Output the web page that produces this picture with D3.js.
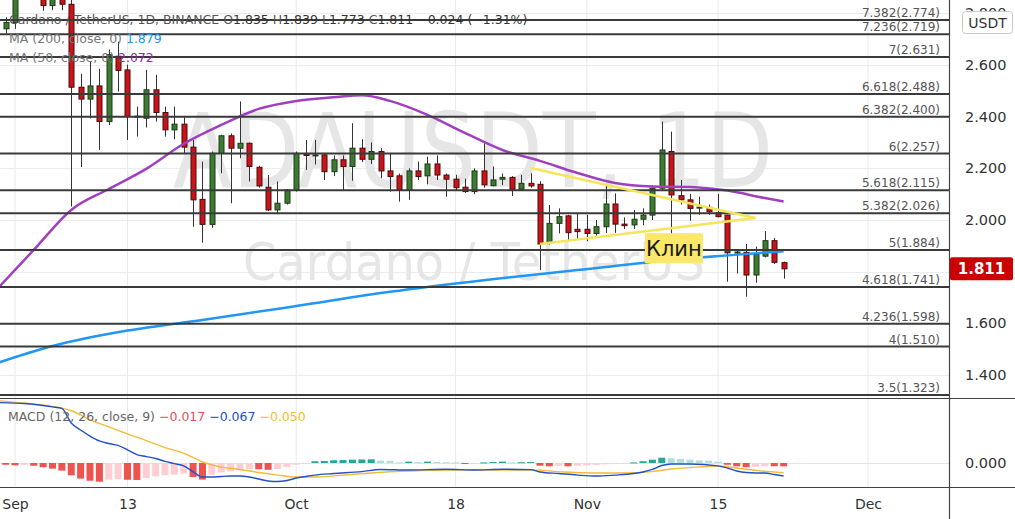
<!DOCTYPE html>
<html><head><meta charset="utf-8">
<script src="https://cdn.jsdelivr.net/npm/d3@7"></script>
<style>html,body{margin:0;padding:0;background:#fff;overflow:hidden}</style>
</head><body><svg id="c" width="1015" height="519"></svg>
<script>
// ---------- DATA ----------
const firstDay = "2021-08-31";
const lastDay = "2021-11-22";
const openP = [2.740,
 2.765,2.920,2.890,2.930,2.830,2.875,2.835,2.514,2.468,2.519,2.381,2.634,2.581,2.398,2.394,2.504,2.416,2.349,2.371,2.282,2.080,1.983,2.258,2.326,2.278,2.297,2.204,2.127,2.039,2.065,
 2.116,2.256,2.250,2.252,2.187,2.233,2.207,2.278,2.235,2.265,2.190,2.171,2.116,2.190,2.171,2.217,2.174,2.158,2.127,2.110,2.190,2.133,2.158,2.165,2.119,2.142,2.138,1.912,1.987,2.016,1.964,
 1.964,1.948,1.974,2.062,1.984,1.981,2.003,2.019,2.123,2.265,2.094,2.078,2.046,2.049,2.028,2.019,1.873,1.875,1.787,1.860,1.920,1.835];
const highP = [2.785,
 2.960,3.100,2.970,2.950,2.900,2.920,2.870,2.566,2.614,2.585,2.660,2.690,2.601,2.439,2.581,2.562,2.439,2.439,2.400,2.310,2.226,2.265,2.330,2.335,2.459,2.300,2.210,2.174,2.149,2.120,
 2.265,2.310,2.310,2.260,2.250,2.250,2.375,2.313,2.300,2.278,2.258,2.180,2.200,2.226,2.245,2.250,2.180,2.175,2.160,2.200,2.297,2.207,2.180,2.170,2.175,2.181,2.150,2.058,2.045,2.020,2.026,
 2.020,2.000,2.140,2.103,2.010,2.039,2.045,2.135,2.381,2.342,2.155,2.101,2.090,2.060,2.101,2.020,1.885,1.907,1.897,1.957,1.930,1.839];
const lowP = [2.722,
 2.740,2.870,2.865,2.810,2.812,2.812,2.052,2.205,2.394,2.271,2.368,2.497,2.310,2.323,2.358,2.381,2.323,2.313,2.258,1.974,1.912,1.970,2.181,2.065,2.239,2.149,2.125,2.035,2.022,2.060,
 2.110,2.194,2.215,2.155,2.170,2.116,2.152,2.225,2.217,2.162,2.110,2.071,2.078,2.155,2.138,2.155,2.090,2.116,2.105,2.100,2.125,2.130,2.135,2.093,2.115,2.125,1.806,1.905,1.948,1.922,1.925,
 1.918,1.940,1.950,1.950,1.965,1.965,1.980,2.000,2.116,1.935,2.060,1.997,2.020,2.020,2.010,1.761,1.793,1.703,1.757,1.855,1.830,1.773];
const closeP = [2.765,
 2.920,2.890,2.930,2.830,2.875,2.835,2.514,2.468,2.519,2.381,2.640,2.579,2.400,2.402,2.504,2.416,2.349,2.371,2.282,2.078,1.983,2.258,2.326,2.278,2.297,2.207,2.132,2.039,2.065,2.116,
 2.258,2.250,2.252,2.187,2.233,2.207,2.278,2.235,2.265,2.190,2.168,2.116,2.190,2.168,2.217,2.174,2.158,2.125,2.110,2.190,2.136,2.155,2.165,2.119,2.142,2.132,1.907,1.987,2.013,1.951,1.955,
 1.948,1.974,2.062,1.984,1.978,2.003,2.019,2.123,2.271,2.097,2.078,2.045,2.050,2.032,2.013,1.873,1.876,1.787,1.868,1.920,1.836,1.811];

const histVals = [-0.009,
 -0.012,-0.009,-0.014,-0.022,-0.029,-0.039,-0.063,-0.080,-0.091,-0.096,-0.085,-0.083,-0.086,-0.087,-0.077,-0.068,-0.063,-0.060,-0.055,-0.072,-0.085,-0.060,-0.048,-0.043,-0.038,-0.031,-0.032,-0.035,-0.031,-0.021,
 -0.009,-0.002,0.009,0.010,0.014,0.015,0.017,0.018,0.019,0.012,0.011,0.003,0.007,0.005,0.007,0.005,0.004,0.003,-0.003,-0.002,0.003,0.005,0.007,0.003,0.004,0.005,-0.014,-0.017,-0.014,-0.017,-0.014,
 -0.013,-0.010,-0.007,-0.003,-0.002,0.003,0.009,0.017,0.027,0.024,0.021,0.017,0.013,0.012,0.007,-0.009,-0.017,-0.022,-0.020,-0.016,-0.0165,-0.017];

const ma50Dates = ["2021-08-30","2021-09-03","2021-09-07","2021-09-11","2021-09-15","2021-09-19","2021-09-23","2021-09-27","2021-10-01","2021-10-05","2021-10-08","2021-10-11","2021-10-15","2021-10-19","2021-10-23","2021-10-27","2021-10-31","2021-11-04","2021-11-08","2021-11-12","2021-11-16","2021-11-20","2021-11-22"];
const ma50Vals  = [1.729,1.884,2.039,2.120,2.198,2.295,2.368,2.430,2.461,2.475,2.483,2.461,2.407,2.337,2.271,2.229,2.182,2.143,2.130,2.128,2.114,2.085,2.072];
const ma200Dates = ["2021-08-30","2021-09-05","2021-09-13","2021-09-21","2021-10-01","2021-10-11","2021-10-21","2021-10-31","2021-11-10","2021-11-22"];
const ma200Vals  = [1.445,1.512,1.572,1.613,1.667,1.722,1.767,1.806,1.845,1.879];

const macdDates = ["2021-08-30","2021-09-02","2021-09-05","2021-09-06","2021-09-07","2021-09-08","2021-09-09","2021-09-10","2021-09-11","2021-09-12","2021-09-13","2021-09-14","2021-09-15","2021-09-16","2021-09-17","2021-09-18","2021-09-19","2021-09-20","2021-09-21","2021-09-22","2021-09-23","2021-09-24","2021-09-25","2021-09-26","2021-09-27","2021-09-28","2021-09-29","2021-09-30","2021-10-01","2021-10-02","2021-10-03","2021-10-05","2021-10-08","2021-10-10","2021-10-13","2021-10-17","2021-10-20","2021-10-23","2021-10-26","2021-10-27","2021-10-29","2021-10-31","2021-11-02","2021-11-04","2021-11-06","2021-11-07","2021-11-08","2021-11-09","2021-11-10","2021-11-12","2021-11-15","2021-11-16","2021-11-17","2021-11-18","2021-11-19","2021-11-20","2021-11-21","2021-11-22"];
const macdVals  = [0.310,0.305,0.288,0.280,0.205,0.169,0.138,0.113,0.100,0.090,0.067,0.043,0.033,0.023,0.008,-0.003,-0.015,-0.045,-0.072,-0.072,-0.069,-0.067,-0.067,-0.072,-0.082,-0.092,-0.095,-0.090,-0.077,-0.069,-0.062,-0.054,-0.044,-0.033,-0.036,-0.032,-0.036,-0.032,-0.034,-0.046,-0.054,-0.062,-0.067,-0.062,-0.054,-0.046,-0.033,-0.013,-0.005,-0.005,-0.015,-0.026,-0.041,-0.049,-0.051,-0.051,-0.059,-0.067];
const signalDates = ["2021-08-30","2021-08-31","2021-09-03","2021-09-05","2021-09-06","2021-09-07","2021-09-08","2021-09-09","2021-09-10","2021-09-11","2021-09-12","2021-09-13","2021-09-15","2021-09-17","2021-09-19","2021-09-21","2021-09-23","2021-09-25","2021-09-27","2021-09-29","2021-10-01","2021-10-03","2021-10-06","2021-10-09","2021-10-13","2021-10-18","2021-10-26","2021-10-29","2021-11-02","2021-11-05","2021-11-08","2021-11-10","2021-11-12","2021-11-15","2021-11-17","2021-11-19","2021-11-22"];
const signalVals  = [0.320,0.316,0.302,0.290,0.281,0.268,0.246,0.221,0.203,0.185,0.167,0.149,0.115,0.079,0.051,0.005,-0.021,-0.033,-0.049,-0.062,-0.072,-0.072,-0.062,-0.051,-0.041,-0.036,-0.036,-0.044,-0.051,-0.051,-0.044,-0.031,-0.023,-0.015,-0.026,-0.038,-0.050];

const fibRatios = ["7.382","7.236","7","6.618","6.382","6","5.618","5.382","5","4.618","4.236","4","3.5"];
const fibPrices = [2.774,2.719,2.631,2.488,2.400,2.257,2.115,2.026,1.884,1.741,1.598,1.510,1.323];

const gridTicks = [1.4,1.6,1.8,2.0,2.2,2.4,2.6,2.8];
const priceTicks = [1.4,1.6,2.0,2.2,2.4,2.6,2.8];   // 1.800 is hidden behind the last-price tag
const macdTicks = [0];
const timeTickDates = ["2021-09-01","2021-09-13","2021-10-01","2021-10-18","2021-11-01","2021-11-15","2021-12-01"];
const timeTickLabels = ["Sep","13","Oct","18","Nov","15","Dec"];

const wedgeUpperDates = ["2021-10-26","2021-11-19"], wedgeUpperPrices = [2.201,2.008];
const wedgeLowerDates = ["2021-10-27","2021-11-19"], wedgeLowerPrices = [1.907,2.008];
const noteText = "Клин", noteDate = "2021-11-10T07:00", notePrice = 1.891;

const symbolTitle = "Cardano / TetherUS, 1D, BINANCE";
const ohlcLabels = ["O","H","L","C"];
const ohlcVals = ["1.835","1.839","1.773","1.811"];
const changeText = "\u22120.024 (\u22121.31%)";
const ma200Label = "MA (200, close, 0)", ma200Last = "1.879";
const ma50Label = "MA (50, close, 0)", ma50Last = "2.072";
const macdLabel = "MACD (12, 26, close, 9)";
const macdLegendVals = ["\u22120.017","\u22120.067","\u22120.050"];
const lastPriceText = "1.811";
const currency = "USDT";
const wmBig = "ADAUSDT, 1D", wmSmall = "Cardano / TetherUS";

// ---------- LAYOUT ----------
const W = 1015, H = 519, PR = 949, MT = 0, MB = 398, QT = 399, QB = 487;
const FONT = "'DejaVu Sans', Verdana, sans-serif";
const P = d3.utcParse("%Y-%m-%d");
const PT = d3.utcParse("%Y-%m-%dT%H:%M");
const dates = d3.utcDay.range(P(firstDay), d3.utcDay.offset(P(lastDay), 1));

const x = d3.scaleUtc().domain([P("2021-09-01"), P("2021-12-01")]).range([15, 868]);
const y = d3.scaleLinear().domain([1.4, 2.0]).range([375, 220]);
const ym = d3.scaleLinear().domain([0, -0.1]).range([463, 482.5]);

const svg = d3.select("#c").style("font-family", FONT);
svg.append("rect").attr("width", W).attr("height", H).attr("fill", "#fff");
const defs = svg.append("defs");
defs.append("clipPath").attr("id", "cm").append("rect").attr("x", 0).attr("y", MT).attr("width", PR).attr("height", MB - MT);
defs.append("clipPath").attr("id", "cq").append("rect").attr("x", 0).attr("y", QT).attr("width", PR).attr("height", QB - QT);

// grid
const grid = svg.append("g");
grid.selectAll("line.v").data(timeTickDates).join("line")
  .attr("x1", d => x(P(d))).attr("x2", d => x(P(d))).attr("y1", 0).attr("y2", QB)
  .attr("stroke", "#e9e9e9").attr("stroke-width", 1);
grid.selectAll("line.h").data(gridTicks).join("line")
  .attr("x1", 0).attr("x2", PR).attr("y1", d => Math.round(y(d)) + 0.5).attr("y2", d => Math.round(y(d)) + 0.5)
  .attr("stroke", "#ececec");
grid.selectAll("line.q").data(macdTicks).join("line")
  .attr("x1", 0).attr("x2", PR).attr("y1", d => Math.round(ym(d)) + 0.5).attr("y2", d => Math.round(ym(d)) + 0.5)
  .attr("stroke", "#e4e4e4");

// watermark
const main = svg.append("g").attr("clip-path", "url(#cm)");
main.append("text").text(wmBig).attr("x", 173).attr("y", 187).attr("font-size", 104)
  .attr("textLength", 600).attr("lengthAdjust", "spacingAndGlyphs").attr("fill", "#e6e6e6");
main.append("text").text(wmSmall).attr("x", 243).attr("y", 280).attr("font-size", 52)
  .attr("textLength", 462).attr("lengthAdjust", "spacingAndGlyphs").attr("fill", "#e6e6e6");

// legend (under marks)
const lg = svg.append("g").attr("font-size", 12.5);
const l1 = lg.append("text").attr("x", 9).attr("y", 24).attr("fill", "#555");
l1.append("tspan").text(symbolTitle + "  ");
ohlcLabels.forEach((k, i) => {
  l1.append("tspan").text(k).attr("fill", "#555");
  l1.append("tspan").text(ohlcVals[i] + "  ").attr("fill", "#333");
});
l1.append("tspan").text(changeText).attr("fill", "#333");
const l2 = lg.append("text").attr("x", 9).attr("y", 43).attr("fill", "#777");
l2.append("tspan").text(ma200Label + "  ");
l2.append("tspan").text(ma200Last).attr("fill", "#2196f3");
const l3 = lg.append("text").attr("x", 9).attr("y", 62).attr("fill", "#777");
l3.append("tspan").text(ma50Label + "  ");
l3.append("tspan").text(ma50Last).attr("fill", "#9c27b0");

// candles
const candles = dates.map((d, i) => ({d, o: openP[i], h: highP[i], l: lowP[i], c: closeP[i]}));
const cg = main.append("g");
cg.selectAll("line").data(candles).join("line")
  .attr("x1", d => Math.round(x(d.d)) + 0.5).attr("x2", d => Math.round(x(d.d)) + 0.5)
  .attr("y1", d => y(d.h)).attr("y2", d => y(d.l)).attr("stroke", "#333").attr("stroke-width", 1);
cg.selectAll("rect").data(candles).join("rect")
  .attr("x", d => Math.round(x(d.d)) - 2)
  .attr("width", 5)
  .attr("y", d => y(Math.max(d.o, d.c)))
  .attr("height", d => Math.max(1, Math.abs(y(d.o) - y(d.c))))
  .attr("fill", d => d.c >= d.o ? "#3d7a32" : "#c8141a")
  .attr("stroke", d => d.c >= d.o ? "#1d3a18" : "#4d0b0b").attr("stroke-width", 1);

// moving averages
const line = d3.line().curve(d3.curveMonotoneX).x(d => x(d[0])).y(d => y(d[1]));
main.append("path").datum(ma200Dates.map((d, i) => [P(d), ma200Vals[i]])).attr("d", line)
  .attr("fill", "none").attr("stroke", "#2196f3").attr("stroke-width", 2.5);
main.append("path").datum(ma50Dates.map((d, i) => [P(d), ma50Vals[i]])).attr("d", line)
  .attr("fill", "none").attr("stroke", "#a040c0").attr("stroke-width", 2.5);

// fib levels
const fg = main.append("g");
fg.selectAll("line").data(fibPrices).join("line")
  .attr("x1", 0).attr("x2", PR).attr("y1", d => y(d)).attr("y2", d => y(d))
  .attr("stroke", "#3a3a3a").attr("stroke-width", 2);
fg.selectAll("text").data(fibPrices).join("text")
  .attr("x", 940).attr("y", d => y(d) - 3).attr("text-anchor", "end")
  .attr("font-size", 12).attr("fill", "#555")
  .text((d, i) => `${fibRatios[i]}(${d.toFixed(3)})`);

// wedge
const wl = d3.line().x(d => x(d[0])).y(d => y(d[1]));
[[wedgeUpperDates, wedgeUpperPrices], [wedgeLowerDates, wedgeLowerPrices]].forEach(([ds, ps]) => {
  main.append("path").datum(ds.map((d, i) => [P(d), ps[i]])).attr("d", wl)
    .attr("fill", "none").attr("stroke", "#f4e65c").attr("stroke-width", 2.5);
});
// note
const nx = x(PT(noteDate)), ny = y(notePrice);
main.append("rect").attr("x", nx - 29).attr("y", ny - 15).attr("width", 58).attr("height", 30)
  .attr("fill", "#fbe86a");
main.append("text").text(noteText).attr("x", nx).attr("y", ny + 7.5).attr("text-anchor", "middle")
  .attr("font-size", 21).attr("fill", "#1a1a1a");

// MACD pane
const mq = svg.append("g").attr("clip-path", "url(#cq)");
const bw = 7;
mq.selectAll("rect").data(dates.map((d, i) => ({d, v: histVals[i], p: i > 0 ? histVals[i - 1] : histVals[i] + 1}))).join("rect")
  .attr("x", d => x(d.d) - bw / 2).attr("width", bw)
  .attr("y", d => Math.min(ym(d.v), ym(0))).attr("height", d => Math.max(1, Math.abs(ym(d.v) - ym(0))))
  .attr("fill", d => d.v >= 0 ? (d.v >= d.p ? "#26a69a" : "#b2dfdb") : (d.v < d.p ? "#ef5350" : "#ffcdd2"));
const ml = d3.line().curve(d3.curveMonotoneX).x(d => x(d[0])).y(d => ym(d[1]));
mq.append("path").datum(signalDates.map((d, i) => [P(d), signalVals[i]])).attr("d", ml)
  .attr("fill", "none").attr("stroke", "#f2bb3a").attr("stroke-width", 1.4);
mq.append("path").datum(macdDates.map((d, i) => [P(d), macdVals[i]])).attr("d", ml)
  .attr("fill", "none").attr("stroke", "#2350c8").attr("stroke-width", 1.4);
const ql = svg.append("text").attr("x", 8).attr("y", 421).attr("font-size", 12.5).attr("fill", "#666");
ql.append("tspan").text(macdLabel + "  ");
ql.append("tspan").text(macdLegendVals[0] + "  ").attr("fill", "#e0525a");
ql.append("tspan").text(macdLegendVals[1] + "  ").attr("fill", "#2350c8");
ql.append("tspan").text(macdLegendVals[2]).attr("fill", "#f2bb3a");

// separators
svg.append("line").attr("x1", 0).attr("x2", W).attr("y1", 398.5).attr("y2", 398.5).attr("stroke", "#444").attr("stroke-width", 1.2);
svg.append("line").attr("x1", 0).attr("x2", W).attr("y1", 487.5).attr("y2", 487.5).attr("stroke", "#444").attr("stroke-width", 1.2);
svg.append("line").attr("x1", PR + 0.5).attr("x2", PR + 0.5).attr("y1", 0).attr("y2", H).attr("stroke", "#444").attr("stroke-width", 1.2);

// axes
const ay = svg.append("g").attr("transform", `translate(${PR},0)`)
  .call(d3.axisRight(y).tickValues(priceTicks).tickFormat(d3.format(".3f")).tickSize(0).tickPadding(16));
ay.select(".domain").remove();
ay.selectAll("text").attr("font-size", 14.5).attr("fill", "#333").attr("font-family", FONT);
const aq = svg.append("g").attr("transform", `translate(${PR},0)`)
  .call(d3.axisRight(ym).tickValues(macdTicks).tickFormat(d3.format(".3f")).tickSize(0).tickPadding(16));
aq.select(".domain").remove();
aq.selectAll("text").attr("font-size", 14.5).attr("fill", "#333").attr("font-family", FONT);
const ax = svg.append("g").attr("transform", `translate(0,${QB})`)
  .call(d3.axisBottom(x).tickValues(timeTickDates.map(P)).tickFormat((d, i) => timeTickLabels[i]).tickSize(0).tickPadding(12));
ax.select(".domain").remove();
ax.selectAll("text").attr("font-size", 14).attr("fill", "#333").attr("font-family", FONT);

// last price label
const lpY = y(closeP[closeP.length - 1]);
svg.append("rect").attr("x", 950).attr("y", lpY - 11.5).attr("width", 63).attr("height", 23).attr("rx", 2).attr("fill", "#cc0000");
svg.append("text").text(lastPriceText).attr("x", 981.5).attr("y", lpY + 5.5).attr("text-anchor", "middle")
  .attr("font-size", 15).attr("font-weight", "bold").attr("fill", "#fff");
// currency box
svg.append("rect").attr("x", 962.5).attr("y", 11.5).attr("width", 50).attr("height", 22).attr("rx", 3)
  .attr("fill", "#fff").attr("stroke", "#c8c8c8");
svg.append("text").text(currency).attr("x", 987.5).attr("y", 28).attr("text-anchor", "middle")
  .attr("font-size", 14).attr("fill", "#333");
</script></body></html>
